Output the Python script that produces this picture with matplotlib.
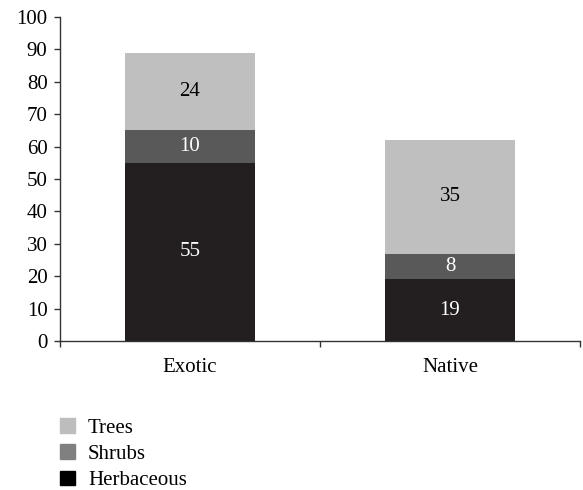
import matplotlib
matplotlib.use("Agg")
import matplotlib.pyplot as plt
from matplotlib.patches import Patch

plt.rcParams['font.family'] = ['Liberation Serif', 'DejaVu Serif']

categories = ["Exotic", "Native"]
herbaceous = [55, 19]
shrubs = [10, 8]
trees = [24, 35]

FS = 15

# (name, values, bar colour, value-label colour, legend swatch colour)
series = [
    ("Herbaceous", herbaceous, "#231f20", "white", "#000000"),
    ("Shrubs", shrubs, "#595959", "white", "#808080"),
    ("Trees", trees, "#bfbfbf", "black", "#bdbdbd"),
]

fig = plt.figure(figsize=(5.83, 4.90), dpi=100)
ax = fig.add_axes([60 / 583, 1 - 341 / 490, 520 / 583, 324 / 490])

x = list(range(len(categories)))
bottom = [0] * len(categories)
for name, vals, color, tcolor, _ in series:
    ax.bar(x, vals, width=0.5, bottom=bottom, color=color, label=name)
    for xi, b, v in zip(x, bottom, vals):
        ax.text(xi, b + v / 2, str(v), ha="center", va="center",
                color=tcolor, fontsize=FS)
    bottom = [b + v for b, v in zip(bottom, vals)]

ax.set_xlim(-0.5, 1.5)
ax.set_ylim(0, 100)
ax.set_yticks(range(0, 101, 10))
ax.set_xticks([-0.5, 0.5, 1.5], minor=False)
ax.set_xticklabels([])
ax.set_xticks(x, minor=True)
ax.set_xticklabels(categories, minor=True)
ax.tick_params(axis="x", which="minor", length=0, pad=12, labelsize=FS)
ax.tick_params(axis="x", which="major", direction="out", length=4, width=1, color="#333333")
ax.tick_params(axis="y", direction="out", length=4, width=1, pad=5,
               labelsize=FS, color="#333333")
for s in ("top", "right"):
    ax.spines[s].set_visible(False)
for s in ("left", "bottom"):
    ax.spines[s].set_color("#333333")
    ax.spines[s].set_linewidth(1)

handles = [Patch(color=lc, label=n) for n, _, _, _, lc in reversed(series)]
fig.legend(handles=handles, loc="upper left", bbox_to_anchor=(60 / 583, 1 - 418 / 490),
           frameon=False, fontsize=FS, handlelength=0.72, handleheight=0.7,
           handletextpad=0.62, labelspacing=0.32, borderpad=0, borderaxespad=0)

fig.savefig("out.png", dpi=100)
